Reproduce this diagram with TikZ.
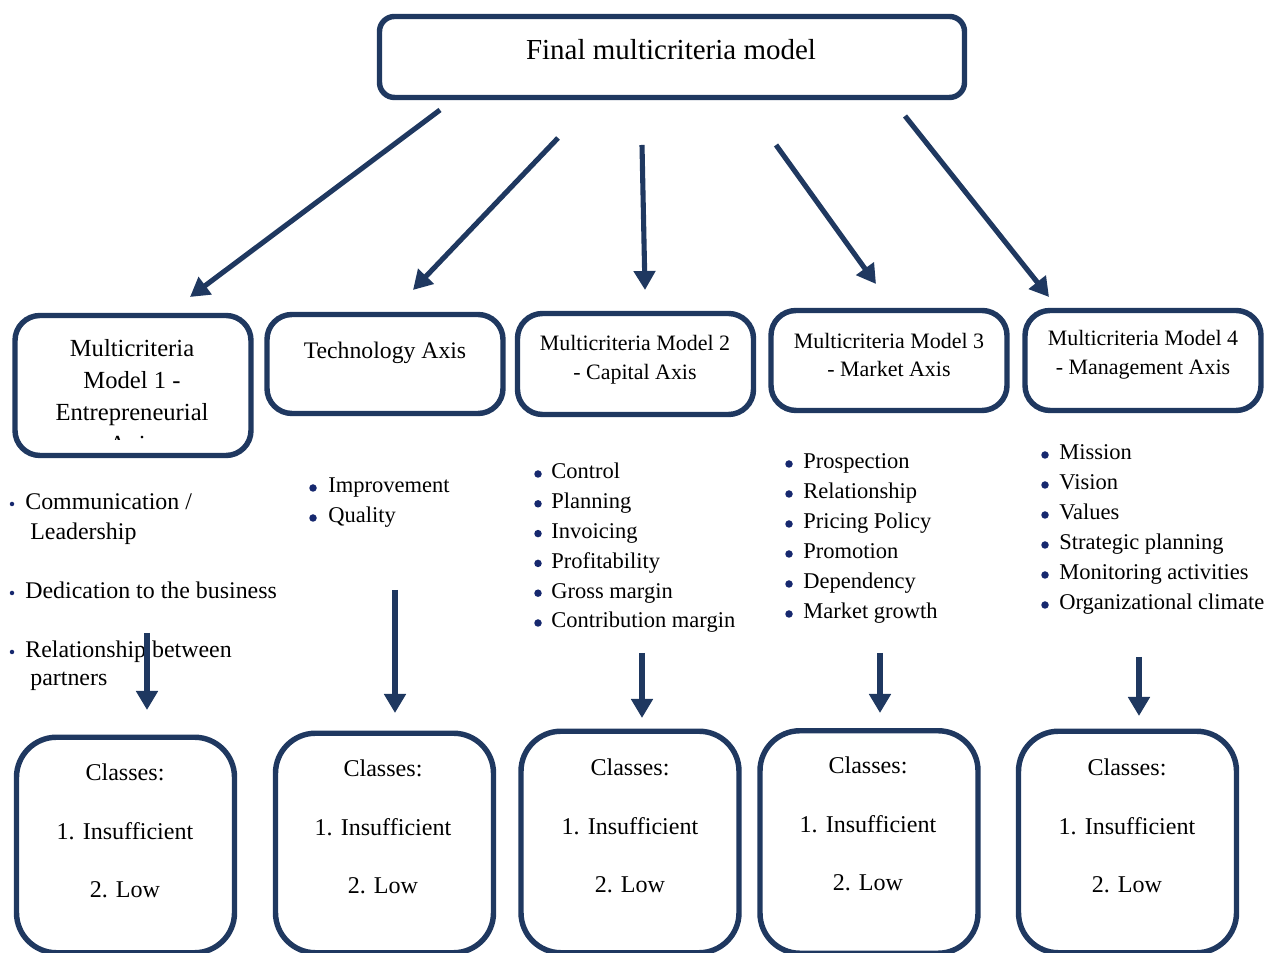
\documentclass[tikz,border=0pt]{standalone}
\usepackage{fontspec}
\setmainfont{Liberation Serif}
\usetikzlibrary{arrows.meta}
\definecolor{navy}{RGB}{31,56,96}
\definecolor{dotblue}{RGB}{22,40,110}

\begin{document}
\begin{tikzpicture}[
  box/.style={draw=navy, line width=3.1pt, rounded corners=0.3cm, inner sep=0pt},
  axisbox/.style={box, rounded corners=0.5cm, minimum width=4.72cm},
  classbox/.style={box, rounded corners=0.8cm, minimum width=4.36cm},
  axtext/.style={align=center, font=\fontsize{12.5}{16.5}\selectfont},
  cltext/.style={align=center, font=\fontsize{13.7}{33.3}\selectfont},
  item/.style={anchor=west, inner sep=0pt, text height=1.6ex, text depth=0.4ex, font=\fontsize{12.8}{15}\selectfont},
  dot/.style={fill=dotblue, circle, inner sep=0pt, minimum size=0.15cm},
  arr/.style={navy, line width=2.9pt, -{Triangle[width=0.42cm,length=0.38cm]}}
  ]
  \useasboundingbox (0,0) rectangle (25.32,19.06);

  % top box
  \node[box, minimum width=11.7cm, minimum height=1.62cm] (final) at (13.44,17.92) {};
  \node[font=\fontsize{16.5}{20}\selectfont] (finaltxt) at (13.42,18.06) {Final multicriteria model};

  % axis boxes
  \node[axisbox, minimum height=2.8cm] (ax1) at (2.66,11.35) {};
  \node[axisbox, minimum height=1.98cm] (ax2) at (7.7,11.78) {};
  \node[axisbox, minimum height=2.02cm] (ax3) at (12.71,11.78) {};
  \node[axisbox, minimum height=2.0cm] (ax4) at (17.78,11.85) {};
  \node[axisbox, minimum height=2.0cm] (ax5) at (22.86,11.85) {};

  \begin{scope}
    \clip (0.4,10.26) rectangle (4.9,12.6);
    \node[align=center, font=\fontsize{14}{18.2}\selectfont] (ax1txt) at (2.64,11.14)
      {Multicriteria\\Model 1 -\\Entrepreneurial\\Axis};
  \end{scope}
  \node[font=\fontsize{13.5}{16}\selectfont] (ax2txt) at (7.7,12.0) {Technology Axis};
  \node[axtext] (ax3txt) at (12.7,11.87) {Multicriteria Model 2\\- Capital Axis};
  \node[axtext] (ax4txt) at (17.78,11.96) {Multicriteria Model 3\\- Market Axis};
  \node[axtext] (ax5txt) at (22.86,11.96) {Multicriteria Model 4\\- Management Axis};

  % criteria lists
  \tikzset{item1/.style={item, font=\fontsize{13.6}{16}\selectfont}}
  \node[dot, minimum size=0.09cm] (d1-1) at (0.24,8.98) {};
  \node[item1] (l1-1) at (0.5,8.96) {Communication /};
  \node[item1] (l1-1b) at (0.6,8.36) {Leadership};
  \node[dot, minimum size=0.09cm] (d1-2) at (0.24,7.2) {};
  \node[item1] (l1-2) at (0.5,7.18) {Dedication to the business};
  \node[dot, minimum size=0.09cm] (d1-3) at (0.24,6.02) {};
  \node[item1] (l1-3) at (0.5,6.0) {Relationship between};
  \node[item1] (l1-3b) at (0.6,5.44) {partners};

  \foreach \t [count=\i] in {Improvement, Quality} {
    \node[dot] (d2-\i) at (6.26,{9.3-0.6*(\i-1)}) {};
    \node[item] (l2-\i) at (6.56,{9.3-0.6*(\i-1)}) {\t};
  }
  \foreach \t [count=\i] in {Control, Planning, Invoicing, Profitability, Gross margin, Contribution margin} {
    \node[dot] (d3-\i) at (10.76,{9.58-0.596*(\i-1)}) {};
    \node[item] (l3-\i) at (11.02,{9.58-0.596*(\i-1)}) {\t};
  }
  \foreach \t [count=\i] in {Prospection, Relationship, Pricing Policy, Promotion, Dependency, Market growth} {
    \node[dot] (d4-\i) at (15.78,{9.78-0.6*(\i-1)}) {};
    \node[item] (l4-\i) at (16.06,{9.78-0.6*(\i-1)}) {\t};
  }
  \foreach \t [count=\i] in {Mission, Vision, Values, Strategic planning, Monitoring activities, Organizational climate} {
    \node[dot] (d5-\i) at (20.9,{9.96-0.6*(\i-1)}) {};
    \node[item] (l5-\i) at (21.18,{9.96-0.6*(\i-1)}) {\t};
  }

  % class boxes
  \foreach \bx/\by/\bh/\tx/\ty [count=\i] in {2.51/2.16/4.31/2.5/2.44, 7.69/2.2/4.39/7.66/2.52,
      12.6/2.22/4.43/12.6/2.54, 17.38/2.22/4.45/17.36/2.58, 22.55/2.22/4.43/22.54/2.54} {
    \node[classbox, minimum height=\bh cm] (cl\i) at (\bx,\by) {};
    \node[cltext] (cl\i txt) at (\tx,\ty) {Classes:\\1. Insufficient\\2. Low};
  }

  % arrows from the final model
  \coordinate (a1s) at (8.8,16.86);   \coordinate (a1e) at (3.8,13.12);
  \coordinate (a2s) at (11.16,16.3);  \coordinate (a2e) at (8.26,13.26);
  \coordinate (a3s) at (12.84,16.16); \coordinate (a3e) at (12.9,13.26);
  \coordinate (a4s) at (15.52,16.16); \coordinate (a4e) at (17.52,13.38);
  \coordinate (a5s) at (18.1,16.74);  \coordinate (a5e) at (20.98,13.12);
  \foreach \i in {1,...,5}
    \draw[arr] (a\i s) -- (a\i e);

  % arrows down to the classes
  \coordinate (v1s) at (2.94,6.4);   \coordinate (v1e) at (2.94,4.86);
  \coordinate (v2s) at (7.9,7.26);   \coordinate (v2e) at (7.9,4.8);
  \coordinate (v3s) at (12.84,6.0);  \coordinate (v3e) at (12.84,4.7);
  \coordinate (v4s) at (17.6,6.0);   \coordinate (v4e) at (17.6,4.8);
  \coordinate (v5s) at (22.78,5.92); \coordinate (v5e) at (22.78,4.74);
  \foreach \i in {1,...,5}
    \draw[arr] (v\i s) -- (v\i e);
\end{tikzpicture}
\end{document}
